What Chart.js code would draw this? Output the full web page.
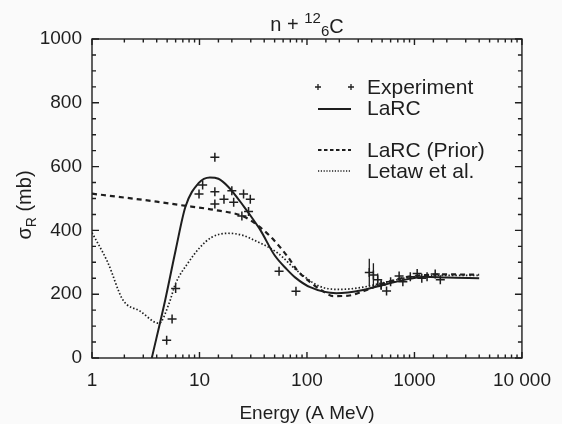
<!DOCTYPE html>
<html>
<head>
<meta charset="utf-8">
<script src="https://cdn.jsdelivr.net/npm/chart.js@4.4.1/dist/chart.umd.min.js"></script>
<style>
  html, body { margin: 0; padding: 0; background: #fafafa; }
</style>
</head>
<body>
<canvas id="chart" width="562" height="424"></canvas>
<script>
// LaRC (solid)
const larcEnergy = [3.6, 4.8, 6, 7.4, 9.8, 12.5, 15, 18.5, 26, 30, 37, 50, 65, 78, 107, 188, 333, 436, 890, 1260, 2000, 4000];
const larcSigma  = [0, 182, 338, 474, 548, 566, 562, 537, 474, 445, 400, 322, 278, 252, 222, 203, 213, 223, 248, 255, 252, 250];

// LaRC (Prior), dashed
const priorEnergy = [1, 2, 4, 6.4, 13.9, 26, 35, 46, 66, 81, 107, 140, 176, 250, 350, 500, 800, 1260, 2000, 4000];
const priorSigma  = [515, 503, 490, 480, 464, 443, 415, 380, 318, 275, 238, 210, 194, 196, 212, 232, 252, 260, 262, 261];

// Letaw et al., dotted
const letawEnergy = [1, 1.4, 1.94, 2.8, 4.2, 5.2, 6, 7.9, 10, 12.9, 18.5, 25, 32, 53, 80, 131, 200, 333, 500, 1000, 2000, 4000];
const letawSigma  = [393, 300, 182, 147, 109, 170, 234, 300, 345, 378, 391, 385, 370, 330, 275, 225, 215, 222, 235, 255, 259, 259];

// Experiment
const expEnergy = [4.95, 5.56, 6, 9.9, 10.7, 13.9, 13.9, 13.9, 16.9, 20, 20.8, 24.8, 25.7, 28.6, 29.7, 55, 79,
                   380, 415, 455, 490, 550, 600, 720, 780, 915, 1060, 1170, 1310, 1560, 1740];
const expSigma  = [56, 122, 218, 514, 542, 629, 521, 483, 498, 524, 488, 445, 514, 459, 498, 272, 209,
                   268, 260, 245, 229, 210, 239, 257, 239, 255, 265, 250, 255, 263, 245];
const expError  = [0, 0, 0, 0, 0, 0, 0, 0, 0, 0, 0, 0, 0, 0, 0, 0, 0,
                   43, 37, 20, 15, 0, 0, 0, 0, 0, 0, 0, 0, 0, 0];

const xTickLabels = { 1: '1', 10: '10', 100: '100', 1000: '1000', 10000: '10 000' };
const yTickLabels = [0, 200, 400, 600, 800, 1000];

const ink = '#1e1e1e';
const fontFamily = '"Liberation Sans", Arial, Helvetica, sans-serif';

const toPoints = (xs, ys) => xs.map((v, i) => ({ x: v, y: ys[i] }));
const isDecade = v => Math.abs(Math.log10(v) - Math.round(Math.log10(v))) < 1e-9;

const framePlugin = {
    id: 'frame',
    beforeDraw(chart) {
        const ctx = chart.ctx;
        ctx.save();
        ctx.fillStyle = '#fafafa';
        ctx.fillRect(0, 0, chart.width, chart.height);
        ctx.restore();
    },
    afterDatasetsDraw(chart) {
        const { ctx, scales: { x, y } } = chart;
        // error bars for experiment points
        ctx.save();
        ctx.strokeStyle = ink;
        ctx.lineWidth = 1.3;
        ctx.beginPath();
        expEnergy.forEach((e, i) => {
            if (!expError[i]) return;
            const px = x.getPixelForValue(e);
            ctx.moveTo(px, y.getPixelForValue(expSigma[i] - expError[i]));
            ctx.lineTo(px, y.getPixelForValue(expSigma[i] + expError[i]));
        });
        ctx.stroke();
        ctx.restore();
    },
    afterDraw(chart) {
        const { ctx, chartArea: a, scales: { x, y } } = chart;
        ctx.save();
        ctx.strokeStyle = ink;
        ctx.lineWidth = 1.4;
        ctx.strokeRect(a.left, a.top, a.right - a.left, a.bottom - a.top);

        // inward ticks on all four sides
        ctx.beginPath();
        x.ticks.forEach(t => {
            const px = x.getPixelForValue(t.value);
            const len = isDecade(t.value) ? 6 : 3.5;
            ctx.moveTo(px, a.bottom); ctx.lineTo(px, a.bottom - len);
            ctx.moveTo(px, a.top); ctx.lineTo(px, a.top + len);
        });
        y.ticks.forEach(t => {
            const py = y.getPixelForValue(t.value);
            const len = t.value % 200 === 0 ? 7 : 4;
            ctx.moveTo(a.left, py); ctx.lineTo(a.left + len, py);
            ctx.moveTo(a.right, py); ctx.lineTo(a.right - len, py);
        });
        ctx.stroke();

        // title  n + 12/6 C
        ctx.fillStyle = ink;
        ctx.textBaseline = 'alphabetic';
        const big = '20px ' + fontFamily, small = '15px ' + fontFamily;
        ctx.font = big;
        const wN = ctx.measureText('n + ').width, wC = ctx.measureText('C').width;
        ctx.font = small;
        const wSup = ctx.measureText('12').width, wSub = ctx.measureText('6').width;
        let tx = (a.left + a.right) / 2 - (wN + wSup + wSub + wC) / 2;
        ctx.font = big; ctx.textAlign = 'left';
        ctx.fillText('n + ', tx, 31); tx += wN;
        ctx.font = small;
        ctx.fillText('12', tx, 23); tx += wSup;
        ctx.fillText('6', tx, 36); tx += wSub;
        ctx.font = big;
        ctx.fillText('C', tx, 33);

        // x axis title
        ctx.font = '19px ' + fontFamily;
        ctx.textAlign = 'center';
        ctx.fillText('Energy (A MeV)', (a.left + a.right) / 2, 419);

        // y axis title: sigma_R (mb)
        ctx.save();
        ctx.translate(31, 205);
        ctx.rotate(-Math.PI / 2);
        ctx.textAlign = 'left';
        ctx.font = '20px ' + fontFamily;
        const wS = ctx.measureText('σ').width, wRest = ctx.measureText(' (mb)').width;
        ctx.font = '14px ' + fontFamily;
        const wR = ctx.measureText('R').width;
        let ty = -(wS + wR + wRest) / 2;
        ctx.font = '20px ' + fontFamily;
        ctx.fillText('σ', ty, 0); ty += wS;
        ctx.font = '14px ' + fontFamily;
        ctx.fillText('R', ty, 5); ty += wR;
        ctx.font = '20px ' + fontFamily;
        ctx.fillText(' (mb)', ty, 0);
        ctx.restore();

        // legend
        const lx0 = 318, lx1 = 351, textX = 367;
        ctx.font = '21px ' + fontFamily;
        ctx.textAlign = 'left';
        ctx.textBaseline = 'middle';
        ctx.lineWidth = 1.3;
        [lx0, lx1].forEach(cx => {
            ctx.beginPath();
            ctx.moveTo(cx - 3, 87); ctx.lineTo(cx + 3, 87);
            ctx.moveTo(cx, 84); ctx.lineTo(cx, 90);
            ctx.stroke();
        });
        ctx.fillText('Experiment', textX, 88);
        ctx.lineWidth = 1.8;
        ctx.beginPath(); ctx.moveTo(lx0, 109); ctx.lineTo(lx1, 109); ctx.stroke();
        ctx.fillText('LaRC', textX, 109);
        ctx.setLineDash([3.5, 2.5]);
        ctx.beginPath(); ctx.moveTo(lx0, 150); ctx.lineTo(lx1, 150); ctx.stroke();
        ctx.fillText('LaRC (Prior)', textX, 151);
        ctx.setLineDash([1.2, 1.6]);
        ctx.lineWidth = 1.4;
        ctx.beginPath(); ctx.moveTo(lx0, 171); ctx.lineTo(lx1, 171); ctx.stroke();
        ctx.setLineDash([]);
        ctx.fillText('Letaw et al.', textX, 172);
        ctx.restore();
    }
};

new Chart(document.getElementById('chart'), {
    type: 'scatter',
    data: {
        datasets: [
            {
                label: 'Letaw et al.',
                data: toPoints(letawEnergy, letawSigma),
                showLine: true,
                borderColor: ink,
                borderWidth: 1.7,
                borderDash: [1.5, 2],
                pointRadius: 0,
                cubicInterpolationMode: 'monotone'
            },
            {
                label: 'LaRC (Prior)',
                data: toPoints(priorEnergy, priorSigma),
                showLine: true,
                borderColor: ink,
                borderWidth: 2.2,
                borderDash: [5, 4],
                pointRadius: 0,
                cubicInterpolationMode: 'monotone'
            },
            {
                label: 'LaRC',
                data: toPoints(larcEnergy, larcSigma),
                showLine: true,
                borderColor: ink,
                borderWidth: 2,
                pointRadius: 0,
                cubicInterpolationMode: 'monotone'
            },
            {
                label: 'Experiment',
                data: toPoints(expEnergy, expSigma),
                showLine: false,
                pointStyle: 'cross',
                pointRadius: 4.5,
                pointBorderWidth: 1.5,
                borderColor: ink,
                backgroundColor: ink
            }
        ]
    },
    options: {
        responsive: false,
        animation: false,
        layout: { padding: { top: 39, right: 34, left: 0, bottom: 0 } },
        plugins: { legend: { display: false }, tooltip: { enabled: false } },
        scales: {
            x: {
                type: 'logarithmic',
                min: 1,
                max: 10000,
                afterFit: s => { s.height = 66; },
                grid: { display: false, drawTicks: false },
                border: { display: false },
                ticks: {
                    autoSkip: false,
                    maxRotation: 0,
                    padding: 11,
                    color: ink,
                    font: { family: fontFamily, size: 19 },
                    callback: v => xTickLabels[v] || ''
                }
            },
            y: {
                min: 0,
                max: 1000,
                afterFit: s => { s.width = 92; },
                grid: { display: false, drawTicks: false },
                border: { display: false },
                ticks: {
                    stepSize: 50,
                    autoSkip: false,
                    padding: 10,
                    color: ink,
                    font: { family: fontFamily, size: 19 },
                    callback: v => yTickLabels.includes(v) ? String(v) : ''
                }
            }
        }
    },
    plugins: [framePlugin]
});
</script>
</body>
</html>
